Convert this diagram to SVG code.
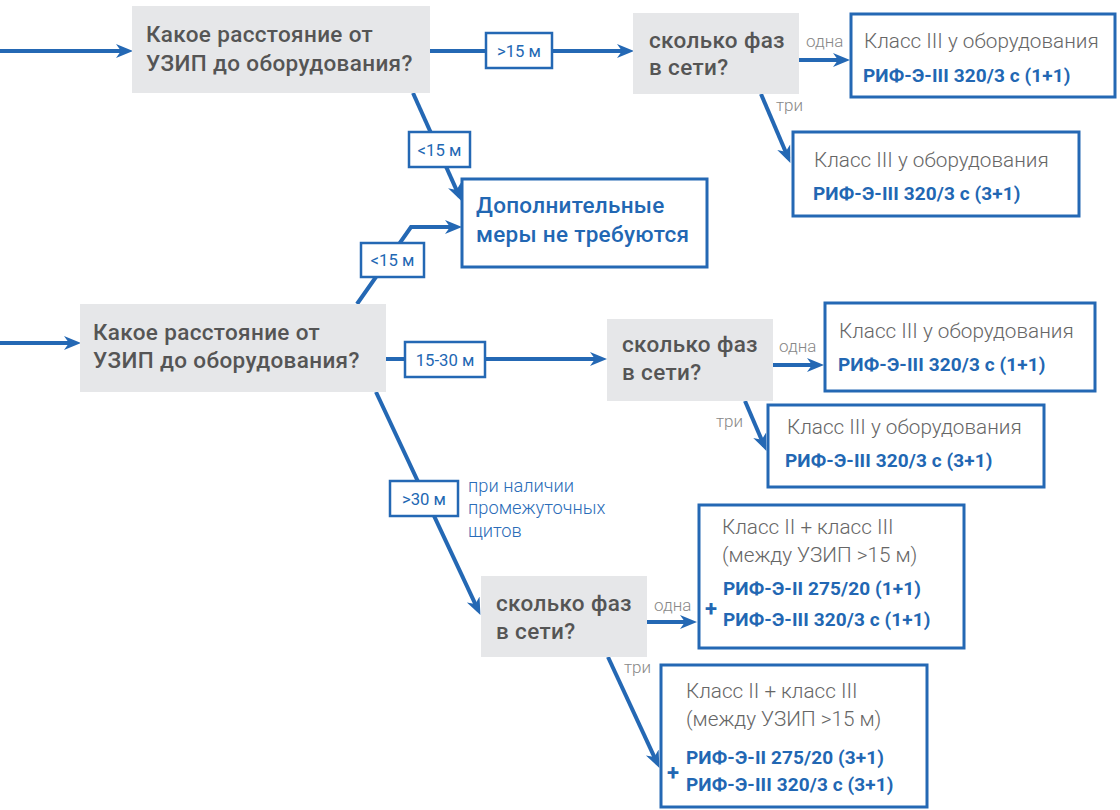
<svg xmlns="http://www.w3.org/2000/svg" width="1120" height="810" viewBox="0 0 1120 810">
<defs>
<marker id="ah" markerUnits="userSpaceOnUse" markerWidth="18" markerHeight="16" viewBox="0 0 18 16" refX="12" refY="8" orient="auto">
<path d="M0,1 L17,8 L0,15 L5,8 z" fill="#2468b4"/>
</marker>
<style>
.q{fill:#e6e7e9}
.qt{font-family:Roboto,"Liberation Sans",sans-serif;font-size:22.5px;letter-spacing:0.35px;font-weight:500;fill:#555555}
.rb{fill:#ffffff;stroke:#2468b4;stroke-width:3}
.lt{font-family:Roboto,"Liberation Sans",sans-serif;font-size:20.7px;font-weight:300;fill:#666666}
.bt{font-family:Roboto,"Liberation Sans",sans-serif;font-size:19px;letter-spacing:0.1px;font-weight:700;fill:#2267b3}
.dt{font-family:Roboto,"Liberation Sans",sans-serif;font-size:22.5px;letter-spacing:0.3px;font-weight:500;fill:#2267b3}
.pl{font-family:Roboto,"Liberation Sans",sans-serif;font-size:22px;font-weight:700;fill:#2267b3}
.c{fill:none;stroke:#2468b4;stroke-width:4;marker-end:url(#ah)}
.lb{fill:#ffffff;stroke:#2468b4;stroke-width:2.5}
.lbt{font-family:Roboto,"Liberation Sans",sans-serif;font-size:16.7px;font-weight:400;fill:#2267b3;text-anchor:middle}
.sm{font-family:Roboto,"Liberation Sans",sans-serif;font-size:17px;font-weight:300;fill:#888888}
.note{font-family:Roboto,"Liberation Sans",sans-serif;font-size:18.3px;font-weight:300;fill:#2a6cb8}
</style>
</defs>
<g id="connectors">
<path class="c" d="M0,51 H128"/>
<path class="c" d="M430,51 H629"/>
<path class="c" d="M413,93 L459.4,196.4"/>
<path class="c" d="M799,60 H845"/>
<path class="c" d="M761,94 L788.4,158.3"/>
<path class="c" d="M0,343 H76"/>
<path class="c" d="M357,304 L411,227 H457"/>
<path class="c" d="M386,359 H602"/>
<path class="c" d="M773,365 H819"/>
<path class="c" d="M745,401 L764.4,446.3"/>
<path class="c" d="M376,392 L478.3,610.4"/>
<path class="c" d="M647,622 H692"/>
<path class="c" d="M608,657 L657.3,763.4"/>
<g id="lbl-gt15">
<rect class="lb" x="486" y="33" width="66" height="35"/>
<text class="lbt" x="519" y="56.5">&gt;15 м</text>
</g>
<g id="lbl-lt15a">
<rect class="lb" x="409" y="132" width="61" height="35"/>
<text class="lbt" x="439.5" y="155.5">&lt;15 м</text>
</g>
<g id="lbl-lt15b">
<rect class="lb" x="361" y="243" width="63" height="34"/>
<text class="lbt" x="392.5" y="266">&lt;15 м</text>
</g>
<g id="lbl-15-30">
<rect class="lb" x="405" y="342" width="80" height="35"/>
<text class="lbt" x="445" y="365.5">15-30 м</text>
</g>
<g id="lbl-gt30">
<rect class="lb" x="390" y="481" width="68" height="35"/>
<text class="lbt" x="424" y="504.5">&gt;30 м</text>
</g>
<text class="sm" x="806" y="47">одна</text>
<text class="sm" x="776" y="111">три</text>
<text class="sm" x="779" y="352">одна</text>
<text class="sm" x="716" y="427">три</text>
<text class="sm" x="654" y="611">одна</text>
<text class="sm" x="624" y="673">три</text>
<text class="note" x="468" y="492">при наличии</text>
<text class="note" x="468" y="514">промежуточных</text>
<text class="note" x="468" y="537">щитов</text>
</g>
<g id="q1">
<rect class="q" x="132" y="6" width="298" height="87"/>
<text class="qt" x="146" y="42">Какое расстояние от</text>
<text class="qt" x="146" y="71">УЗИП до оборудования?</text>
</g>
<g id="p1">
<rect class="q" x="633" y="13" width="166" height="81"/>
<text class="qt" x="649" y="48">сколько фаз</text>
<text class="qt" x="649" y="75">в сети?</text>
</g>
<g id="r1">
<rect class="rb" x="851" y="14" width="264" height="83"/>
<text class="lt" x="864" y="48">Класс III у оборудования</text>
<text class="bt" x="863" y="82">РИФ-Э-III 320/3 с (1+1)</text>
</g>
<g id="r2">
<rect class="rb" x="793" y="132" width="286" height="84"/>
<text class="lt" x="814" y="167">Класс III у оборудования</text>
<text class="bt" x="813" y="200">РИФ-Э-III 320/3 с (3+1)</text>
</g>
<g id="none">
<rect class="rb" x="462" y="179" width="245" height="88"/>
<text class="dt" x="476" y="213">Дополнительные</text>
<text class="dt" x="476" y="242">меры не требуются</text>
</g>
<g id="q2">
<rect class="q" x="80" y="304" width="306" height="88"/>
<text class="qt" x="93" y="340">Какое расстояние от</text>
<text class="qt" x="93" y="368">УЗИП до оборудования?</text>
</g>
<g id="p2">
<rect class="q" x="607" y="319" width="166" height="82"/>
<text class="qt" x="622" y="352">сколько фаз</text>
<text class="qt" x="622" y="380">в сети?</text>
</g>
<g id="r3">
<rect class="rb" x="825" y="303" width="270" height="88"/>
<text class="lt" x="839" y="338">Класс III у оборудования</text>
<text class="bt" x="838" y="371">РИФ-Э-III 320/3 с (1+1)</text>
</g>
<g id="r4">
<rect class="rb" x="768" y="405" width="276" height="82"/>
<text class="lt" x="787" y="434">Класс III у оборудования</text>
<text class="bt" x="785" y="467">РИФ-Э-III 320/3 с (3+1)</text>
</g>
<g id="p3">
<rect class="q" x="481" y="576" width="166" height="81"/>
<text class="qt" x="496" y="611">сколько фаз</text>
<text class="qt" x="496" y="639">в сети?</text>
</g>
<g id="r5">
<rect class="rb" x="699" y="505" width="265" height="143"/>
<text class="lt" x="722" y="534">Класс II + класс III</text>
<text class="lt" x="722" y="562">(между УЗИП &gt;15 м)</text>
<text class="pl" x="705" y="616">+</text>
<text class="bt" x="723" y="595">РИФ-Э-II 275/20 (1+1)</text>
<text class="bt" x="723" y="626">РИФ-Э-III 320/3 с (1+1)</text>
</g>
<g id="r6">
<rect class="rb" x="661" y="665" width="266" height="142"/>
<text class="lt" x="686" y="698">Класс II + класс III</text>
<text class="lt" x="686" y="726">(между УЗИП &gt;15 м)</text>
<text class="pl" x="667" y="780">+</text>
<text class="bt" x="686" y="764">РИФ-Э-II 275/20 (3+1)</text>
<text class="bt" x="686" y="791">РИФ-Э-III 320/3 с (3+1)</text>
</g>
</svg>
